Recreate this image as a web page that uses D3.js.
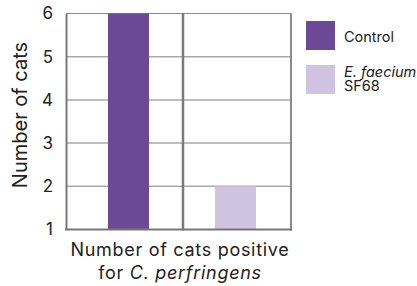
<!DOCTYPE html>
<html>
<head>
<meta charset="utf-8">
<script src="https://cdn.jsdelivr.net/npm/d3@7"></script>
<style>
  body { margin: 0; background: #fff; }
  text { font-family: Inter, "Noto Sans", sans-serif; fill: #222; }
</style>
</head>
<body>
<script>
// data
let groups = ["Control", "E. faecium SF68"];
let catsPositive = [6, 2];
let yTicks = [1, 2, 3, 4, 5, 6];
let colors = ["#6c4896", "#cec4e2"];

let width = 417;
let height = 286;

let svg = d3.select("body").append("svg")
            .attr("width", width)
            .attr("height", height);

let plotLeft = 66, plotRight = 291, plotTop = 13.5, plotBottom = 229.5;

let x = d3.scaleBand().domain(groups).range([75, 289]);
let y = d3.scaleLinear().domain([1, 6]).range([plotBottom, plotTop]);
let barW = 41;

// grid lines
svg.append("g").selectAll("line")
   .data(yTicks.filter(d => d > 1 && d < 6))
   .join("line")
   .attr("x1", plotLeft).attr("x2", plotRight)
   .attr("y1", d => y(d)).attr("y2", d => y(d))
   .attr("stroke", "#a8a8a8")
   .attr("stroke-width", 1.5);

// top line
svg.append("line").attr("x1", plotLeft).attr("x2", plotRight)
   .attr("y1", y(6)).attr("y2", y(6))
   .attr("stroke", "#888").attr("stroke-width", 1);

// bars
svg.append("g").selectAll("rect")
   .data(groups)
   .join("rect")
   .attr("x", d => x(d) + (x.bandwidth() - barW) / 2)
   .attr("y", (d, i) => y(catsPositive[i]))
   .attr("width", barW)
   .attr("height", (d, i) => y(1) - y(catsPositive[i]))
   .attr("fill", (d, i) => colors[i]);

// divider between groups
svg.append("line").attr("x1", x(groups[1]) + 1).attr("x2", x(groups[1]) + 1)
   .attr("y1", plotTop).attr("y2", plotBottom + 1)
   .attr("stroke", "#7a7a7a").attr("stroke-width", 2.5);

// right border
svg.append("line").attr("x1", plotRight).attr("x2", plotRight)
   .attr("y1", plotTop).attr("y2", plotBottom + 1)
   .attr("stroke", "#8a8a8a").attr("stroke-width", 2);

// y axis
let yAxis = svg.append("g")
   .attr("transform", `translate(${plotLeft},0)`)
   .call(d3.axisLeft(y).tickValues(yTicks).tickFormat(d3.format("d")).tickSize(0).tickPadding(13));
yAxis.select(".domain").attr("stroke", "#777").attr("stroke-width", 2);
yAxis.selectAll("text").style("font-size", "17px").attr("fill", "#222");

// x axis baseline
svg.append("line").attr("x1", plotLeft - 1).attr("x2", plotRight + 1)
   .attr("y1", plotBottom).attr("y2", plotBottom)
   .attr("stroke", "#777").attr("stroke-width", 2);

// y title
svg.append("text")
   .attr("transform", "translate(27,115) rotate(-90)")
   .attr("text-anchor", "middle")
   .style("font-size", "20px")
   .text("Number of cats");

// x title
svg.append("text")
   .attr("x", 180).attr("y", 255.5)
   .attr("text-anchor", "middle")
   .style("font-size", "18px")
   .style("letter-spacing", "0.7px")
   .text("Number of cats positive");

let t2 = svg.append("text")
   .attr("x", 180).attr("y", 279)
   .attr("text-anchor", "middle")
   .style("font-size", "18px")
   .style("letter-spacing", "0.7px");
t2.append("tspan").text("for ");
t2.append("tspan").attr("font-style", "italic").text("C. perfringens");

// legend
let lg = svg.append("g");
lg.selectAll("rect")
  .data(groups)
  .join("rect")
  .attr("x", 306)
  .attr("y", (d, i) => 21 + i * 44)
  .attr("width", 29).attr("height", 29)
  .attr("fill", (d, i) => colors[i]);

lg.append("text").attr("x", 344).attr("y", 42)
  .style("font-size", "14.5px").text(groups[0]);

lg.append("text").attr("x", 344).attr("y", 77)
  .style("font-size", "14.5px").attr("font-style", "italic").text("E. faecium");
lg.append("text").attr("x", 344).attr("y", 91)
  .style("font-size", "14.5px").text("SF68");
</script>
</body>
</html>
